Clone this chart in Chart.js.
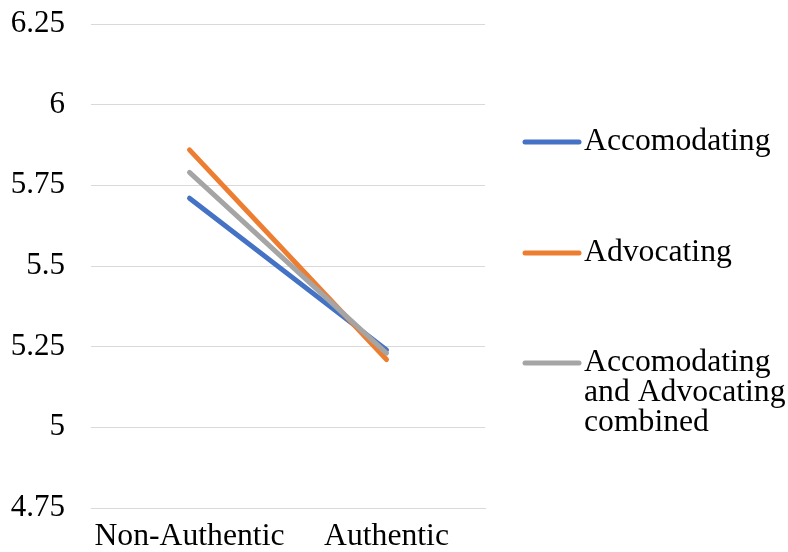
<!DOCTYPE html>
<html>
<head>
<meta charset="utf-8">
<script src="https://cdn.jsdelivr.net/npm/chart.js@4/dist/chart.umd.min.js"></script>
<style>
  html, body { margin: 0; padding: 0; background: #ffffff; }
  #wrap { width: 788px; height: 552px; }
</style>
</head>
<body>
<div id="wrap"><canvas id="chart" width="788" height="552"></canvas></div>
<script>
// Mean ratings by authenticity condition
const categories = ['Non-Authentic', 'Authentic'];
const seriesNames = ['Accomodating', 'Advocating', 'Accomodating and Advocating combined'];
const legendLines = [['Accomodating'], ['Advocating'], ['Accomodating', 'and Advocating', 'combined']];
const accomodating = [5.71, 5.24];
const advocating = [5.86, 5.21];
const combined = [5.79, 5.23];
const yTicks = [4.75, 5, 5.25, 5.5, 5.75, 6, 6.25];

const colors = ['#4472C4', '#ED7D31', '#A5A5A5'];
const FONT = '"Liberation Serif", "Times New Roman", serif';

// Legend drawn to the right of the plot, with wrapped label text
const sideLegend = {
  id: 'sideLegend',
  afterDraw(chart) {
    const ctx = chart.ctx;
    const rows = [142, 253, 363];
    ctx.save();
    chart.data.datasets.forEach((ds, i) => {
      const y = rows[i];
      ctx.strokeStyle = ds.borderColor;
      ctx.lineWidth = 5;
      ctx.lineCap = 'round';
      ctx.beginPath();
      ctx.moveTo(525, y);
      ctx.lineTo(579, y);
      ctx.stroke();
      ctx.fillStyle = '#000000';
      ctx.font = '31.7px ' + FONT;
      ctx.textBaseline = 'middle';
      ctx.textAlign = 'left';
      legendLines[i].forEach((line, k) => {
        ctx.fillText(line, 584, y + k * 30);
      });
    });
    ctx.restore();
  }
};

new Chart(document.getElementById('chart'), {
  type: 'line',
  data: {
    labels: categories,
    datasets: [
      { label: seriesNames[0], data: accomodating, borderColor: colors[0], order: 3 },
      { label: seriesNames[1], data: advocating, borderColor: colors[1], order: 2 },
      { label: seriesNames[2], data: combined, borderColor: colors[2], order: 1 }
    ].map(d => Object.assign(d, {
      backgroundColor: d.borderColor,
      borderWidth: 5,
      borderCapStyle: 'round',
      pointRadius: 0,
      pointHoverRadius: 0,
      tension: 0,
      fill: false
    }))
  },
  options: {
    responsive: false,
    animation: false,
    events: [],
    layout: { padding: { top: 24, right: 303, bottom: 0, left: 0 } },
    plugins: {
      legend: { display: false },
      tooltip: { enabled: false }
    },
    scales: {
      x: {
        offset: true,
        grid: { display: false, drawTicks: false },
        border: { display: true, color: '#d9d9d9', width: 1 },
        ticks: {
          color: '#000000',
          font: { family: FONT, size: 31.7 },
          padding: 10,
          maxRotation: 0
        },
        afterFit(scale) { scale.height = 44; }
      },
      y: {
        min: 4.75,
        max: 6.25,
        afterBuildTicks(scale) { scale.ticks = yTicks.map(v => ({ value: v })); },
        grid: { color: '#d9d9d9', lineWidth: 1, drawTicks: false },
        border: { display: false },
        ticks: {
          color: '#000000',
          font: { family: FONT, size: 31 },
          padding: 26,
          callback: v => String(v)
        },
        afterFit(scale) {
          scale.width = 91;
          scale.paddingTop = 0;
          scale.paddingBottom = 0;
        }
      }
    }
  },
  plugins: [sideLegend]
});
</script>
</body>
</html>
